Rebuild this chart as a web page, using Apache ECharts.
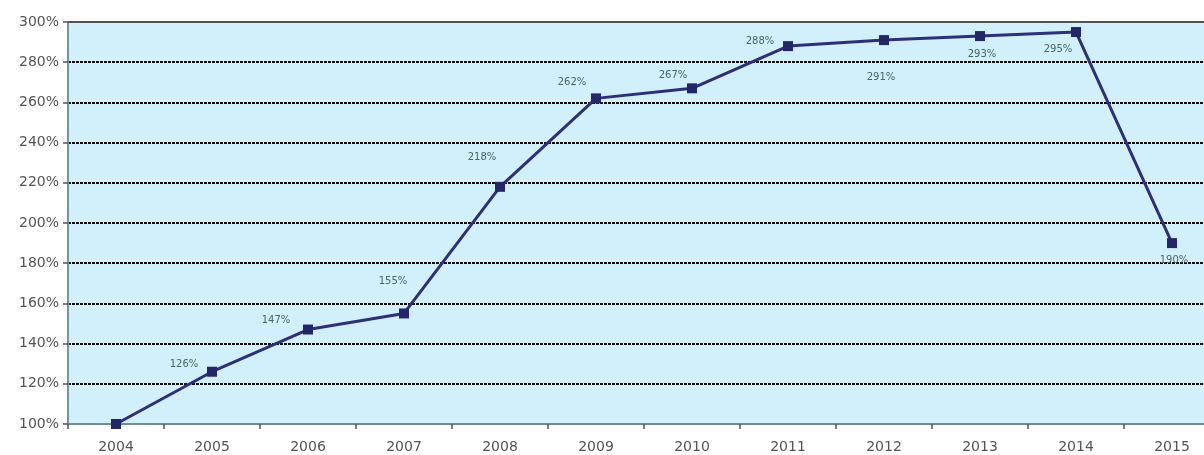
<!DOCTYPE html>
<html><head><meta charset="utf-8">
<script src="https://cdn.jsdelivr.net/npm/echarts@6/dist/echarts.min.js"></script>
<style>html,body{margin:0;padding:0;background:#fff;overflow:hidden}#c{width:1204px;height:455px}</style>
</head><body><div id="c"></div>
<script>
const categories = ['2004','2005','2006','2007','2008','2009','2010','2011','2012','2013','2014','2015'];
const values = [100, 126, 147, 155, 218, 262, 267, 288, 291, 293, 295, 190];
const labelTexts = ['', '126%', '147%', '155%', '218%', '262%', '267%', '288%', '291%', '293%', '295%', '190%'];
const yTicks = {min: 100, max: 300, step: 20};

// label offsets (style only)
const labelOffsets = [[0,0],[-28,8],[-32,6],[-11,-17],[-18,-14],[-24,-1],[-19,2],[-28,10],[-3,52],[2,33],[-18,32],[2,32]];

const chart = echarts.init(document.getElementById('c'));
chart.setOption({
  animation: false,
  backgroundColor: '#fff',
  grid: {left: 68, right: -16, top: 22, bottom: 31, outerBoundsMode: 'none', containLabel: false,
         show: true, backgroundColor: '#d2f0fb', borderWidth: 0},
  xAxis: {
    type: 'category', data: categories, boundaryGap: true,
    axisLine: {lineStyle: {color: '#6f8f8c', width: 2}},
    axisTick: {show: true, alignWithLabel: false, length: 5, lineStyle: {color: '#555', width: 1.5}},
    axisLabel: {color: '#555', fontFamily: 'DejaVu Sans', fontSize: 14, margin: 16}
  },
  yAxis: {
    type: 'value', min: yTicks.min, max: yTicks.max, interval: yTicks.step,
    axisLine: {show: true, lineStyle: {color: '#6f9896', width: 2}},
    axisTick: {show: true, length: 5, lineStyle: {color: '#555', width: 1.5}},
    axisLabel: {color: '#555', fontFamily: 'DejaVu Sans', fontSize: 14, margin: 9, formatter: v => v + '%'},
    splitLine: {show: true, lineStyle: {color: '#111', width: 2, type: [3, 1]}}
  },
  series: [{
    type: 'line',
    data: values.map((v, i) => ({
      value: v,
      label: {show: labelTexts[i] !== '', formatter: labelTexts[i], position: 'top', offset: labelOffsets[i]}
    })),
    symbol: 'rect', symbolSize: 10,
    itemStyle: {color: '#25266a'},
    lineStyle: {color: '#2e2f78', width: 3},
    label: {color: '#4a6464', fontFamily: 'DejaVu Sans', fontSize: 10},
    z: 5
  }],
  graphic: [{
    type: 'line', shape: {x1: 68, y1: 22, x2: 1204, y2: 22},
    style: {stroke: '#555', lineWidth: 2}, z: 10
  }]
});
</script></body></html>
